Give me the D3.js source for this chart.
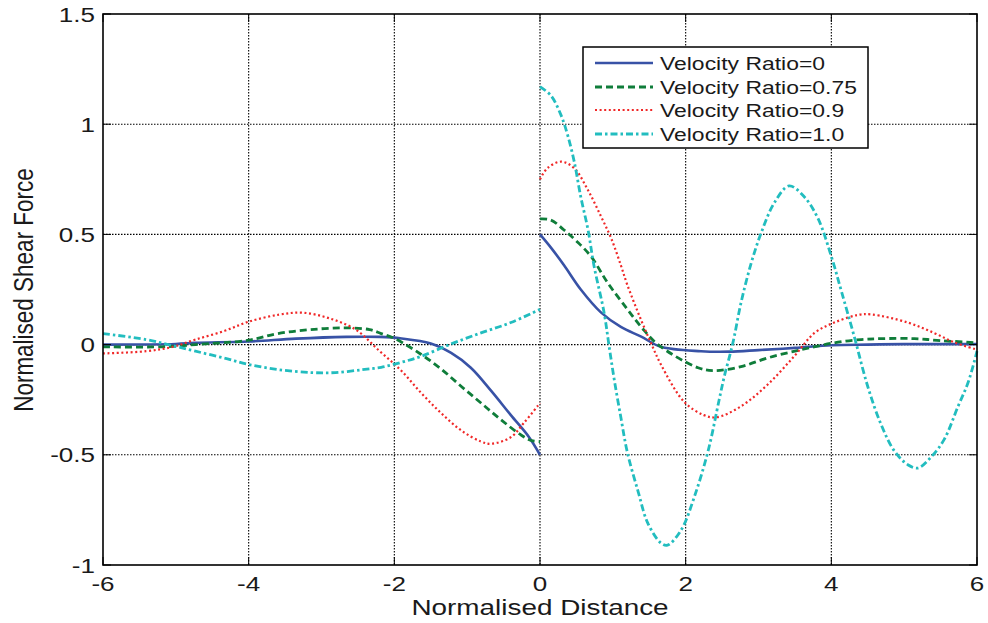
<!DOCTYPE html>
<html><head><meta charset="utf-8">
<script src="https://cdn.jsdelivr.net/npm/d3@7/dist/d3.min.js"></script>
<style>body{margin:0;background:#fff}svg{display:block}</style>
</head><body>
<svg id="c" width="988" height="623"></svg>
<script>
// ---- data ----
const xTicks = [-6, -4, -2, 0, 2, 4, 6];
const yTicks = [-1, -0.5, 0, 0.5, 1, 1.5];
const yTickLabels = ["-1", "-0.5", "0", "0.5", "1", "1.5"];
const seriesNames = ["Velocity Ratio=0", "Velocity Ratio=0.75", "Velocity Ratio=0.9", "Velocity Ratio=1.0"];

const vr0Left = [[-6,0],[-5,0.003],[-4.73,0.008],[-4,0.014],[-3.35,0.027],[-2.66,0.035],[-2.2,0.035],[-1.9,0.028],[-1.5,0.005],[-1.22,-0.038],[-0.95,-0.105],[-0.67,-0.21],[-0.4,-0.32],[-0.15,-0.42],[0,-0.5]];
const vr0Right = [[0,0.5],[0.15,0.44],[0.33,0.36],[0.56,0.25],[0.84,0.145],[1.11,0.08],[1.39,0.036],[1.66,-0.01],[2.21,-0.03],[2.6,-0.032],[3.0,-0.025],[3.5,-0.015],[4.0,-0.003],[4.5,0.0],[5,0.002],[6,0.002]];

const vr075Left = [[-6,-0.01],[-5.2,-0.01],[-4.73,0],[-4,0.02],[-3.6,0.05],[-3.15,0.068],[-2.66,0.076],[-2.34,0.068],[-2.18,0.05],[-1.98,0.025],[-1.63,-0.045],[-1.36,-0.11],[-1.08,-0.19],[-0.81,-0.265],[-0.54,-0.34],[-0.26,-0.41],[-0.12,-0.435],[0,-0.44]];
const vr075Right = [[0,0.57],[0.15,0.565],[0.33,0.52],[0.5,0.47],[0.7,0.4],[0.93,0.28],[1.2,0.16],[1.39,0.08],[1.62,0],[2.17,-0.105],[2.39,-0.118],[2.76,-0.1],[3.13,-0.06],[3.59,-0.023],[4.04,0.008],[4.41,0.023],[4.68,0.027],[5.14,0.027],[5.5,0.018],[5.96,0.008],[6,0.005]];

const vr09Left = [[-6,-0.04],[-5.41,-0.03],[-5.04,-0.01],[-4.73,0.023],[-4.35,0.06],[-4,0.104],[-3.58,0.136],[-3.26,0.145],[-2.9,0.12],[-2.53,0.068],[-2.2,-0.03],[-1.9,-0.12],[-1.63,-0.22],[-1.36,-0.31],[-1.08,-0.39],[-0.81,-0.44],[-0.67,-0.45],[-0.4,-0.42],[-0.22,-0.355],[0,-0.265]];
const vr09Right = [[0,0.75],[0.1,0.8],[0.29,0.83],[0.47,0.8],[0.66,0.7],[0.84,0.58],[0.98,0.48],[1.11,0.36],[1.2,0.27],[1.39,0.11],[1.52,0.01],[1.66,-0.09],[1.98,-0.26],[2.25,-0.32],[2.42,-0.33],[2.76,-0.28],[3.13,-0.18],[3.49,-0.053],[3.77,0.053],[4.04,0.1],[4.37,0.135],[4.55,0.137],[5.05,0.1],[5.41,0.053],[5.69,0.01],[6,-0.023]];

const vr1Left = [[-6,0.05],[-5.41,0.023],[-5.04,-0.005],[-4.73,-0.03],[-4.35,-0.06],[-4,-0.09],[-3.58,-0.114],[-3.13,-0.127],[-2.81,-0.127],[-2.44,-0.114],[-2.18,-0.103],[-1.9,-0.08],[-1.63,-0.053],[-1.22,0.003],[-0.81,0.053],[-0.4,0.1],[0,0.16]];
const vr1Right = [[0,1.17],[0.15,1.13],[0.29,1.04],[0.38,0.95],[0.47,0.83],[0.56,0.67],[0.66,0.52],[0.74,0.36],[0.88,0.145],[0.95,-0.01],[1.02,-0.16],[1.11,-0.33],[1.2,-0.49],[1.35,-0.67],[1.48,-0.81],[1.66,-0.9],[1.75,-0.91],[1.94,-0.84],[2.12,-0.69],[2.31,-0.48],[2.46,-0.25],[2.53,-0.145],[2.65,0.01],[2.76,0.19],[2.9,0.37],[3.04,0.51],[3.22,0.645],[3.42,0.72],[3.63,0.67],[3.82,0.57],[4.0,0.4],[4.14,0.24],[4.32,0.03],[4.5,-0.19],[4.68,-0.36],[4.86,-0.48],[5.05,-0.545],[5.19,-0.56],[5.37,-0.51],[5.55,-0.43],[5.74,-0.28],[5.88,-0.17],[6,-0.03]];

// ---- styles ----
const styles = [
  {color:"#3852a6", width:2.6, dash:null},
  {color:"#0f7d3a", width:2.8, dash:"7,4"},
  {color:"#f02828", width:2.2, dash:"2,2.6"},
  {color:"#22bdbf", width:2.8, dash:"7,3,2.5,3"}
];
const seriesData = [[vr0Left, vr0Right],[vr075Left, vr075Right],[vr09Left, vr09Right],[vr1Left, vr1Right]];

const FONT = "'Liberation Sans', Arial, Helvetica, sans-serif";
const SX = 1.24; // horizontal stretch of the reference text

const svg = d3.select("#c");
const L = 103, R = 977, T = 14, B = 565;
const x = d3.scaleLinear().domain([-6, 6]).range([L, R]);
const y = d3.scaleLinear().domain([-1, 1.5]).range([B, T]);

svg.append("rect").attr("x",0).attr("y",0).attr("width",988).attr("height",623).attr("fill","#fff");

// grid
const grid = svg.append("g");
xTicks.forEach(t => {
  if (t === -6 || t === 6) return;
  grid.append("line").attr("x1", x(t)).attr("x2", x(t)).attr("y1", T).attr("y2", B)
    .attr("stroke", "#000").attr("stroke-width", 1.1).attr("stroke-dasharray", "1.5,1.5");
});
yTicks.forEach(t => {
  if (t === -1 || t === 1.5) return;
  grid.append("line").attr("x1", L).attr("x2", R).attr("y1", y(t)).attr("y2", y(t))
    .attr("stroke", "#000").attr("stroke-width", 1.1).attr("stroke-dasharray", "1.5,1.5");
});

// series
const line = d3.line().x(d => x(d[0])).y(d => y(d[1])).curve(d3.curveCatmullRom.alpha(0.5));
const plot = svg.append("g");
seriesData.forEach((segs, i) => {
  segs.forEach(seg => {
    const p = plot.append("path").attr("d", line(seg)).attr("fill", "none")
      .attr("stroke", styles[i].color).attr("stroke-width", styles[i].width)
      .attr("stroke-linejoin", "round");
    if (styles[i].dash) p.attr("stroke-dasharray", styles[i].dash);
  });
});

// axes box
svg.append("rect").attr("x", L).attr("y", T).attr("width", R - L).attr("height", B - T)
  .attr("fill", "none").attr("stroke", "#000").attr("stroke-width", 1.6);

// ticks (inward, all sides)
const tk = 8;
xTicks.forEach(t => {
  svg.append("line").attr("x1", x(t)).attr("x2", x(t)).attr("y1", B).attr("y2", B - tk).attr("stroke", "#000");
  svg.append("line").attr("x1", x(t)).attr("x2", x(t)).attr("y1", T).attr("y2", T + tk).attr("stroke", "#000");
});
yTicks.forEach(t => {
  svg.append("line").attr("x1", L).attr("x2", L + tk).attr("y1", y(t)).attr("y2", y(t)).attr("stroke", "#000");
  svg.append("line").attr("x1", R).attr("x2", R - tk).attr("y1", y(t)).attr("y2", y(t)).attr("stroke", "#000");
});

function stretchedText(g, tx, ty, str, size, anchor, rot) {
  return g.append("text")
    .attr("transform", `translate(${tx},${ty}) scale(${SX},1)` + (rot ? ` rotate(${rot})` : ""))
    .attr("text-anchor", anchor).attr("font-family", FONT).attr("font-size", size)
    .attr("fill", "#1a1a1a").text(str);
}

// tick labels
const labels = svg.append("g");
xTicks.forEach(t => stretchedText(labels, x(t), 591, String(t), 21, "middle"));
yTicks.forEach((t, i) => stretchedText(labels, 95, y(t) + 7.5, yTickLabels[i], 21, "end"));

// axis titles
stretchedText(labels, 540, 615, "Normalised Distance", 22.5, "middle");
stretchedText(labels, 33, 290, "Normalised Shear Force", 22.5, "middle", -90);

// legend
const lg = svg.append("g");
lg.append("rect").attr("x", 583).attr("y", 47).attr("width", 285).attr("height", 101)
  .attr("fill", "#fff").attr("stroke", "#000").attr("stroke-width", 1.5);
const rowY = [63, 87, 110, 134];
seriesNames.forEach((n, i) => {
  const l = lg.append("line").attr("x1", 595).attr("x2", 653).attr("y1", rowY[i]).attr("y2", rowY[i])
    .attr("stroke", styles[i].color).attr("stroke-width", styles[i].width);
  if (styles[i].dash) l.attr("stroke-dasharray", styles[i].dash);
  stretchedText(lg, 660, rowY[i] + 6.5, n, 18.5, "start");
});
</script>
</body></html>
